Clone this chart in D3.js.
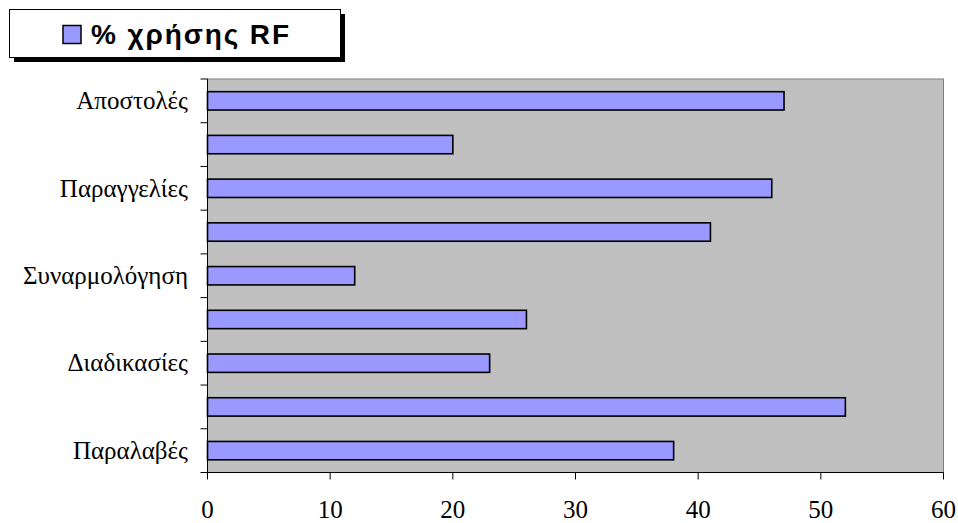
<!DOCTYPE html>
<html><head><meta charset="utf-8">
<script src="https://cdn.jsdelivr.net/npm/d3@7"></script>
<style>body{margin:0;background:#fff}svg{display:block}</style>
</head><body><svg id="c" width="958" height="523"></svg>
<script>
const categories = ["Αποστολές","","Παραγγελίες","","Συναρμολόγηση","","Διαδικασίες","","Παραλαβές"];
const values = [47,20,46,41,12,26,23,52,38];
const xTicks = [0,10,20,30,40,50,60];
const seriesName = "% χρήσης RF";

const svg = d3.select("#c");
const L=207.5, R=943.5, T=79, B=472.5;
const idx = d3.range(categories.length);
const x = d3.scaleLinear().domain([0,60]).range([L,R]);
const y = d3.scaleBand().domain(idx).range([T,B]).paddingInner(0.58).paddingOuter(0.29);
const yb = d3.scaleBand().domain(idx).range([T,B]);

svg.append("rect").attr("x",L).attr("y",T).attr("width",R-L).attr("height",B-T)
  .attr("fill","#C0C0C0").attr("stroke","#808080").attr("stroke-width",1);

svg.selectAll(".bar").data(idx).enter().append("rect")
  .attr("x",x(0)).attr("y",i=>y(i)).attr("width",i=>x(values[i])-x(0)).attr("height",y.bandwidth())
  .attr("fill","#9999FF").attr("stroke","#000").attr("stroke-width",1.6);

const yAxis = svg.append("g");
yAxis.append("line").attr("x1",L).attr("x2",L).attr("y1",T).attr("y2",B).attr("stroke","#000");
const yTicks = idx.map(i=>yb(i)).concat([B]);
yAxis.selectAll(".yt").data(yTicks).enter().append("line")
  .attr("x1",L-7).attr("x2",L).attr("y1",d=>d).attr("y2",d=>d).attr("stroke","#000");
yAxis.selectAll(".yl").data(idx).enter().append("text")
  .attr("font-family","Liberation Serif")
  .attr("x",188).attr("y",i=>yb(i)+yb.bandwidth()/2).attr("dy","0.33em")
  .attr("text-anchor","end").attr("font-size",25).attr("fill","#000").text(i=>categories[i]);

const xg = svg.append("g").attr("transform",`translate(0,${B})`);
xg.append("line").attr("x1",L).attr("x2",R).attr("stroke","#000");
xg.selectAll(".xt").data(xTicks).enter().append("line")
  .attr("x1",d=>x(d)).attr("x2",d=>x(d)).attr("y1",0).attr("y2",7).attr("stroke","#000");
xg.selectAll(".xl").data(xTicks).enter().append("text")
  .attr("font-family","Liberation Serif")
  .attr("x",d=>x(d)).attr("y",45.5).attr("text-anchor","middle").attr("font-size",25)
  .attr("fill","#000").text(d=>d);

const lg = svg.append("g");
lg.append("rect").attr("x",14).attr("y",14).attr("width",331).attr("height",48).attr("fill","#000");
lg.append("rect").attr("x",9.5).attr("y",9.5).attr("width",331).attr("height",48).attr("fill","#fff").attr("stroke","#000");
lg.append("rect").attr("x",63).attr("y",25.5).attr("width",18).attr("height",18).attr("fill","#9999FF").attr("stroke","#000").attr("stroke-width",1.5);
lg.append("text").attr("font-family","Liberation Sans").attr("x",91).attr("y",44)
  .attr("font-weight","bold").attr("font-size",28).attr("textLength",198).attr("lengthAdjust","spacing")
  .attr("fill","#000").text(seriesName);
</script></body></html>
